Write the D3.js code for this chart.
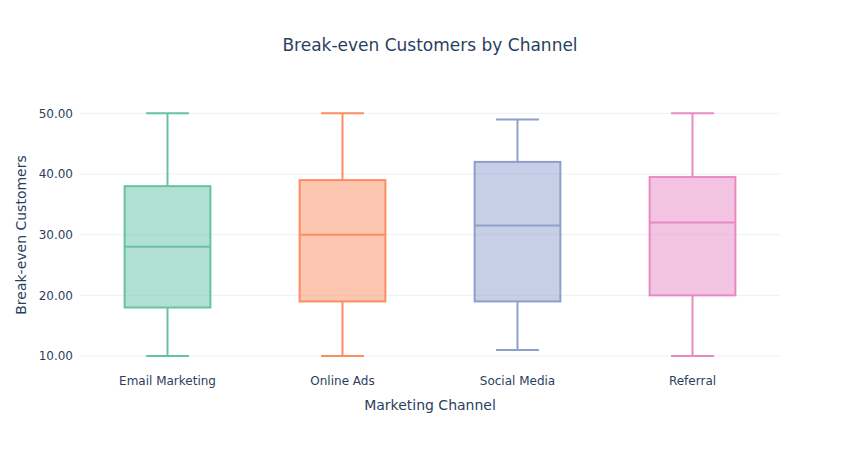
<!DOCTYPE html>
<html><head><meta charset="utf-8">
<script src="https://cdn.jsdelivr.net/npm/d3@7"></script>
<style>body{margin:0;background:#fff}svg{display:block}text{font-family:"DejaVu Sans",Verdana,sans-serif}</style>
</head><body><svg id="c" width="860" height="450"></svg>
<script>
const categories = ["Email Marketing","Online Ads","Social Media","Referral"];
const lowerWhisker = [10,10,11,10];
const q1 = [18,19,19,20];
const median = [28,30,31.5,32];
const q3 = [38,39,42,39.5];
const upperWhisker = [50,50,49,50];
const colors = ["#66c2a5","#fc8d62","#8da0cb","#e78ac3"];
const yTicks = [10,20,30,40,50];

const svg = d3.select("#c");
const m = {l:80,r:80,t:100,b:80};
const W = 860, H = 450;
const x = d3.scaleBand().domain(categories).range([m.l, W-m.r]);
const y = d3.scaleLinear().domain([7.7,52.2]).range([H-m.b, m.t]);

// grid
svg.append("g").selectAll("line").data(yTicks).join("line")
  .attr("x1",m.l).attr("x2",W-m.r).attr("y1",d=>y(d)).attr("y2",d=>y(d))
  .attr("stroke","#ebf0f8").attr("stroke-width",1);

const yAxis = d3.axisLeft(y).tickValues(yTicks).tickFormat(d3.format(".2f")).tickSize(0).tickPadding(7);
const gy = svg.append("g").attr("transform",`translate(${m.l},0)`).call(yAxis);
gy.select(".domain").remove();
gy.selectAll("text").attr("font-size",12).attr("fill","#2a3f5f").attr("font-family","DejaVu Sans");

const xAxis = d3.axisBottom(x).tickSize(0).tickPadding(6);
const gx = svg.append("g").attr("transform",`translate(0,${H-m.b})`).call(xAxis);
gx.select(".domain").remove();
gx.selectAll("text").attr("font-size",12).attr("fill","#2a3f5f").attr("font-family","DejaVu Sans");

const data = categories.map((c,i)=>({c,lo:lowerWhisker[i],q1:q1[i],med:median[i],q3:q3[i],hi:upperWhisker[i],col:colors[i]}));
const bw = x.bandwidth()*0.49;
const cw = bw/2;
const g = svg.append("g").selectAll("g").data(data).join("g")
  .attr("transform",d=>`translate(${x(d.c)+x.bandwidth()/2},0)`);
g.append("line").attr("x1",0).attr("x2",0).attr("y1",d=>y(d.hi)).attr("y2",d=>y(d.q3)).attr("stroke",d=>d.col).attr("stroke-width",2);
g.append("line").attr("x1",0).attr("x2",0).attr("y1",d=>y(d.q1)).attr("y2",d=>y(d.lo)).attr("stroke",d=>d.col).attr("stroke-width",2);
g.append("line").attr("x1",-cw/2).attr("x2",cw/2).attr("y1",d=>y(d.hi)).attr("y2",d=>y(d.hi)).attr("stroke",d=>d.col).attr("stroke-width",2);
g.append("line").attr("x1",-cw/2).attr("x2",cw/2).attr("y1",d=>y(d.lo)).attr("y2",d=>y(d.lo)).attr("stroke",d=>d.col).attr("stroke-width",2);
g.append("rect").attr("x",-bw/2).attr("width",bw).attr("y",d=>y(d.q3)).attr("height",d=>y(d.q1)-y(d.q3))
  .attr("fill",d=>d.col).attr("fill-opacity",0.5).attr("stroke",d=>d.col).attr("stroke-width",2);
g.append("line").attr("x1",-bw/2).attr("x2",bw/2).attr("y1",d=>y(d.med)).attr("y2",d=>y(d.med)).attr("stroke",d=>d.col).attr("stroke-width",2);

svg.append("text").attr("x",430).attr("y",51).attr("text-anchor","middle").attr("font-size",17).attr("fill","#2a3f5f").text("Break-even Customers by Channel");
svg.append("text").attr("x",(m.l+W-m.r)/2).attr("y",410).attr("text-anchor","middle").attr("font-size",14).attr("fill","#2a3f5f").text("Marketing Channel");
svg.append("text").attr("transform",`translate(26,${(m.t+H-m.b)/2}) rotate(-90)`).attr("text-anchor","middle").attr("font-size",14).attr("fill","#2a3f5f").text("Break-even Customers");
</script></body></html>
